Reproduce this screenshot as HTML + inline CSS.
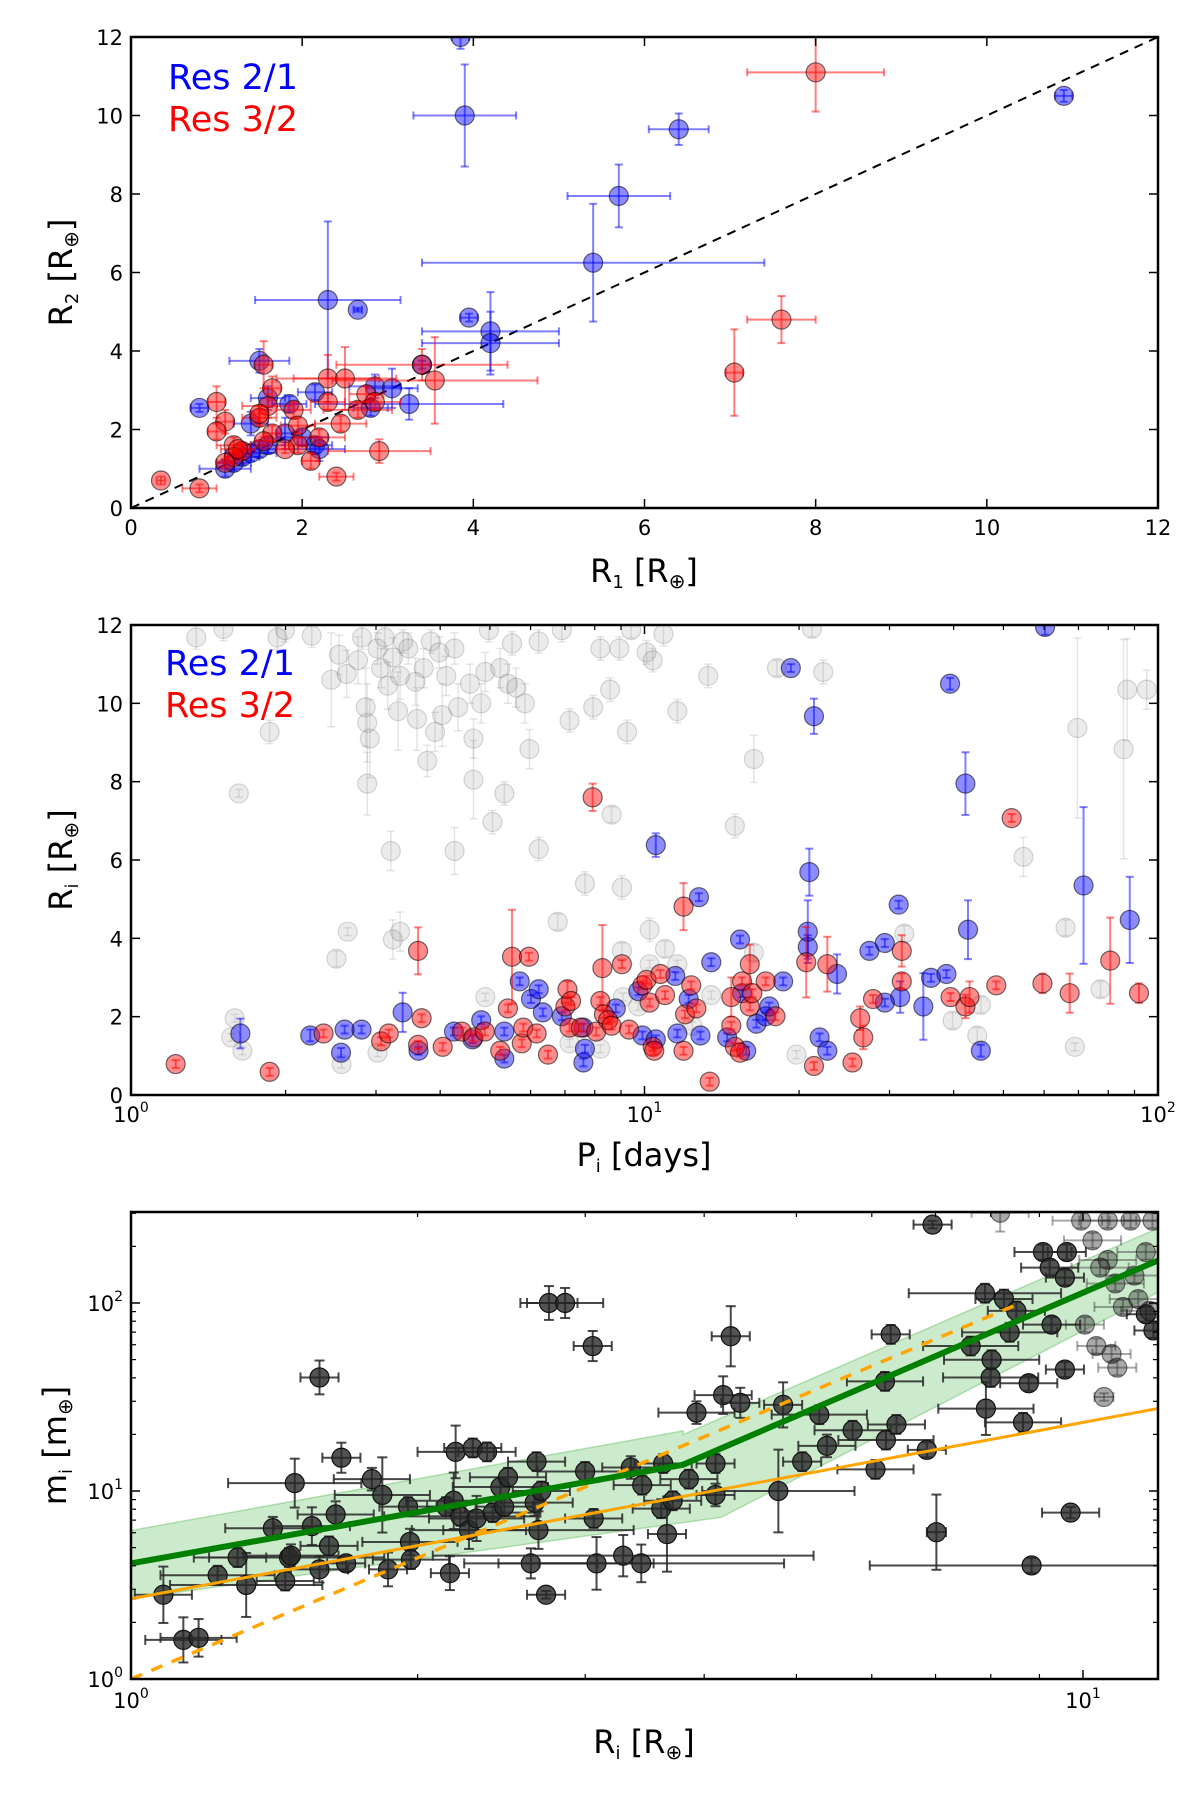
<!DOCTYPE html>
<html><head><meta charset="utf-8"><style>
html,body{margin:0;padding:0;background:#fff;}
svg{display:block;font-family:"DejaVu Sans","Liberation Sans",sans-serif;}
</style></head><body>
<svg id="fig" width="1200" height="1796" viewBox="0 0 1200 1796" xmlns="http://www.w3.org/2000/svg">
<defs>
<clipPath id="c1"><rect x="131" y="37" width="1027" height="471"/></clipPath>
<clipPath id="c2"><rect x="131" y="625" width="1027" height="470"/></clipPath>
<clipPath id="c3"><rect x="131" y="1212" width="1027" height="467"/></clipPath>
</defs>
<g id="p1"></g>
<g id="p2"></g>
<g id="p3"></g>
</svg>
<script>
// ---------- Panel 1 data: [R1, R2, xerr, yerr] ----------
const p1Res21 = [[3.85,12,0.1,0.3],[3.9,10,0.6,1.3],[6.4,9.65,0.35,0.4],[10.9,10.5,0.1,0.15],[5.7,7.95,0.6,0.8],[5.4,6.25,2,1.5],[2.3,5.3,0.85,2],[2.65,5.05,0.05,0.05],[3.95,4.85,0.1,0.1],[4.2,4.5,0.8,1],[4.2,4.2,0.8,0.8],[1.5,3.75,0.35,0.3],[3.4,3.65,0.1,0.1],[2.15,2.95,0.2,0.2],[2.85,3.1,0.3,0.3],[3.05,3.05,0.3,0.5],[3.25,2.65,1.1,0.4],[0.8,2.55,0.1,0.1],[1.85,2.65,0.2,0.2],[1.4,2.15,0.2,0.3],[1.6,2.8,0.2,0.3],[1.8,1.9,0.1,0.4],[2.15,1.6,0.2,0.2],[2.2,1.5,0.3,0.3],[1.5,1.5,0.2,0.2],[1.3,1.3,0.2,0.2],[1.1,1.0,0.3,0.2],[1.4,1.4,0.3,0.2],[2.0,1.8,0.3,0.2],[1.6,1.6,0.2,0.2],[1.2,1.15,0.2,0.2],[2.8,2.55,0.2,0.2]];
const p1Res32 = [[8,11.1,0.8,1],[7.6,4.8,0.4,0.6],[7.05,3.45,0.1,1.1],[0.35,0.7,0.05,0.1],[0.8,0.5,0.2,0.1],[2.4,0.8,0.2,0.1],[2.9,1.45,0.6,0.3],[1.0,2.7,0.1,0.4],[1.55,3.65,0.1,0.6],[2.3,3.3,0.6,0.6],[2.5,3.3,0.6,0.8],[3.4,3.65,1.0,0.4],[3.55,3.25,1.2,1.1],[1.65,3.05,0.1,0.3],[1.6,2.6,0.3,0.3],[1.1,2.2,0.1,0.3],[1.0,1.95,0.1,0.2],[1.2,1.6,0.2,0.2],[1.5,2.3,0.2,0.2],[1.5,2.4,0.1,0.2],[1.9,2.5,0.2,0.2],[1.95,2.1,0.2,0.2],[2.3,2.7,0.2,0.2],[2.65,2.5,0.4,0.2],[2.75,2.9,0.2,0.2],[2.85,2.7,0.3,0.2],[2.45,2.15,0.3,0.2],[2.1,1.2,0.1,0.2],[1.95,1.6,0.1,0.2],[2.2,1.8,0.3,0.2],[1.3,1.45,0.1,0.2],[1.2,1.3,0.1,0.1],[1.65,1.9,0.1,0.2],[1.55,1.7,0.1,0.1],[1.1,1.15,0.1,0.1],[1.8,1.5,0.1,0.1],[1.25,1.5,0.2,0.1]];
const p1Ticks = [0,2,4,6,8,10,12];

// ---------- Panel 2 data: [log10 P, R, yerr] ----------
const p2Gray = [[.127,11.68,.3],[.18,11.9,.3],[.285,11.68,.3],[.3,11.87,.3],[.352,11.73,.3],[.39,10.6,1.2],[.405,11.24,.5],[.42,10.75,.6],[.442,11.1,.6],[.45,11.68,.3],[.457,9.9,1],[.46,9.5,1],[.465,9.1,1],[.46,7.95,.8],[.48,11.4,.4],[.487,10.9,.5],[.494,11.68,.3],[.5,10.45,.6],[.51,11.17,.5],[.52,9.8,1],[.524,10.7,.6],[.53,11.58,.3],[.54,11.4,.4],[.554,10.55,.6],[.557,9.6,.8],[.57,10.9,.5],[.577,8.53,.4],[.584,11.58,.3],[.592,9.27,.5],[.6,11.3,.4],[.606,9.7,.8],[.614,10.7,.5],[.63,11.4,.4],[.637,9.9,.6],[.66,10.5,.5],[.667,9.1,.5],[.667,8.05,1],[.682,10.0,.5],[.69,10.8,.5],[.697,11.87,.3],[.704,6.97,.3],[.719,10.9,.5],[.727,7.7,.3],[.734,10.5,.5],[.742,11.53,.3],[.75,10.4,.5],[.767,10.0,.5],[.776,8.83,.5],[.794,11.58,.3],[.839,11.87,.3],[.854,9.56,.3],[.9,9.9,.3],[.914,11.4,.3],[.933,10.35,.3],[.936,7.16,.2],[.951,11.4,.3],[.966,9.27,.3],[.974,11.87,.2],[1.004,11.3,.3],[1.016,11.1,.3],[1.037,11.77,.3],[1.064,9.8,.3],[1.124,10.7,.3],[1.176,6.87,.3],[1.213,8.58,.6],[1.258,10.9,.2],[1.326,11.9,.2],[1.348,10.8,.3],[1.843,9.37,2.3],[1.933,8.83,2.8],[1.94,10.35,1.3],[1.978,10.35,.5],[1.738,6.08,.5],[1.82,4.27,.2],[1.838,1.23,.1],[1.888,2.7,.2],[1.6,1.9,.2],[1.655,2.3,.2],[1.648,1.52,.2],[1.296,1.03,.1],[.21,7.7,.1],[.27,9.27,.3],[.506,6.23,.5],[.63,6.23,.6],[.794,6.28,.3],[.884,5.4,.3],[.956,5.3,.3],[.831,4.42,.2],[1.01,4.22,.3],[1.04,3.73,.2],[.956,3.68,.2],[1.506,4.12,.2],[.51,3.97,.5],[.524,4.17,.5],[.422,4.17,.1],[.4,3.48,.2],[.202,1.96,.1],[.195,1.47,.1],[.217,1.13,.1],[.41,.79,.1],[.48,1.08,.1],[.69,2.5,.1],[.854,1.32,.1],[.914,1.18,.1],[.958,2.5,.1],[.988,2.26,.1],[1.01,3.34,.1],[1.064,3.34,.1],[1.13,2.55,.1],[1.213,3.63,.2],[1.093,1.77,.1]];
const p2Res21 = [[.213,1.57,.38],[.349,1.52,.15],[.409,1.08,.12],[.416,1.67,.1],[.449,1.67,.1],[.529,2.11,.5],[.56,1.13,.1],[.629,1.62,.1],[.682,1.91,.1],[.665,1.42,.1],[.727,1.62,.1],[.757,2.9,.1],[.779,2.45,.1],[.794,2.7,.1],[.802,2.11,.1],[.727,.93,.1],[.839,2.01,.1],[.881,1.72,.1],[.881,.83,.1],[.884,1.18,.1],[.944,2.21,.1],[.988,2.65,.1],[.996,1.52,.1],[1.022,1.42,.1],[1.06,3.04,.1],[1.086,2.45,.1],[1.064,1.57,.1],[1.109,1.52,.1],[1.106,5.05,.1],[1.022,6.38,.3],[1.13,3.39,.1],[1.161,1.47,.1],[1.186,3.97,.1],[1.19,2.6,.1],[1.198,1.13,.1],[1.218,1.82,.1],[1.236,2.01,.1],[1.243,2.26,.1],[1.27,2.9,.1],[1.285,10.9,.1],[1.318,3.78,.3],[1.318,4.17,.8],[1.321,5.69,.6],[1.33,9.67,.45],[1.341,1.47,.1],[1.356,1.13,.1],[1.375,3.09,.5],[1.438,3.68,.1],[1.468,3.88,.1],[1.495,4.86,.1],[1.498,2.5,.4],[1.468,2.36,.1],[1.543,2.26,.85],[1.558,2.99,.1],[1.588,3.09,.1],[1.595,10.5,.15],[1.625,7.95,.8],[1.63,4.22,.75],[1.655,1.13,.15],[1.78,11.95,.2],[1.855,5.35,2],[1.945,4.47,1.1]];
const p2Res32 = [[.087,.79,.1],[.27,.59,.1],[.375,1.57,.1],[.487,1.37,.1],[.502,1.57,.1],[.559,3.68,.6],[.559,1.28,.1],[.566,1.96,.1],[.607,1.23,.1],[.644,1.62,.1],[.667,1.47,.1],[.689,1.62,.1],[.719,1.13,.1],[.734,2.21,.1],[.742,3.53,1.2],[.761,1.32,.1],[.764,1.72,.1],[.775,3.53,.1],[.79,1.57,.1],[.812,1.03,.1],[.846,2.26,.1],[.85,2.7,.2],[.854,1.72,.1],[.857,2.4,.1],[.876,1.72,.1],[.899,7.6,.35],[.906,1.62,.1],[.914,2.4,.1],[.918,3.24,1.1],[.921,2.06,.1],[.929,1.91,.1],[.936,1.77,.1],[.956,3.34,.1],[.97,1.67,.1],[.996,2.8,.1],[1.004,2.94,.1],[1.01,2.36,.1],[1.016,1.23,.1],[1.019,1.13,.1],[1.031,3.09,.1],[1.04,2.55,.1],[1.076,4.81,.6],[1.076,1.13,.1],[1.079,2.06,.1],[1.091,2.8,.1],[1.101,2.21,.1],[1.127,.34,.1],[1.169,2.5,.5],[1.169,1.77,.1],[1.176,1.23,.1],[1.186,1.08,.1],[1.19,2.9,.1],[1.205,3.34,.5],[1.205,2.26,.1],[1.21,2.6,.1],[1.236,2.9,.1],[1.255,2.01,.1],[1.315,3.39,.9],[1.33,.74,.1],[1.356,3.34,.7],[1.405,.83,.1],[1.42,1.96,.3],[1.426,1.47,.3],[1.445,2.45,.1],[1.501,3.68,.4],[1.501,2.9,.2],[1.596,2.5,.1],[1.625,2.26,.3],[1.633,2.5,.4],[1.685,2.8,.1],[1.715,7.07,.1],[1.775,2.85,.25],[1.828,2.6,.5],[1.907,3.43,1.1],[1.963,2.6,.25]];
const p2YTicks = [0,2,4,6,8,10,12];
const p2XDecades = [0,1,2];

// ---------- Panel 3 data: [log10 R, log10 m, xerr dex, yerr dex] ----------
const p3Planets = [[.034,.448,.03,.15],[.055,.208,.04,.12],[.071,.219,.04,.1],[.091,.552,.06,.05],[.121,.5,.08,.17],[.112,.646,.03,.05],[.162,.521,.03,.05],[.166,.646,.1,.05],[.168,.656,.05,.06],[.172,1.042,.07,.13],[.149,.802,.05,.06],[.19,.813,.04,.1],[.198,.583,.03,.07],[.208,.708,.03,.05],[.215,.875,.04,.07],[.221,1.177,.02,.08],[.226,.615,.02,.04],[.198,1.604,.02,.09],[.253,1.063,.04,.06],[.264,.979,.05,.2],[.27,.583,.02,.09],[.291,.917,.03,.05],[.293,.729,.05,.07],[.294,.635,.04,.05],[.331,.917,.02,.05],[.335,.563,.02,.09],[.341,1.208,.04,.14],[.339,.948,.05,.15],[.346,.865,.08,.05],[.355,.792,.06,.1],[.359,1.229,.03,.05],[.363,.854,.05,.12],[.374,1.208,.03,.05],[.38,.885,.05,.05],[.388,1.021,.05,.05],[.392,.917,.03,.05],[.396,1.073,.04,.05],[.42,.615,.07,.08],[.424,.938,.04,.07],[.426,1.156,.03,.05],[.428,.792,.1,.1],[.431,1.0,.03,.05],[.436,.448,.02,.02],[.439,2.0,.03,.09],[.456,2.0,.04,.08],[.477,1.104,.05,.05],[.485,1.771,.02,.08],[.486,.854,.03,.05],[.489,.615,.06,.14],[.517,.656,.2,.11],[.525,1.125,.03,.06],[.537,1.031,.03,.05],[.536,.615,.15,.1],[.557,.906,.03,.05],[.559,1.146,.03,.05],[.563,.771,.02,.2],[.569,.948,.03,.05],[.586,1.063,.03,.05],[.594,1.417,.04,.06],[.614,1.146,.02,.05],[.614,.979,.02,.06],[.622,1.51,.03,.1],[.63,1.823,.02,.16],[.64,1.469,.02,.08],[.68,1.0,.08,.22],[.685,1.458,.02,.12],[.705,1.156,.02,.05],[.723,1.406,.05,.05],[.731,1.24,.03,.06],[.758,1.323,.04,.05],[.782,1.115,.04,.05],[.792,1.583,.04,.05],[.793,1.271,.05,.05],[.798,1.833,.02,.05],[.804,1.354,.03,.05],[.836,1.219,.02,.04],[.842,2.417,.02,.02],[.846,.781,.01,.2],[.882,1.771,.05,.05],[.897,2.052,.08,.05],[.898,1.438,.05,.14],[.903,1.604,.05,.05],[.904,1.698,.05,.05],[.917,2.021,.03,.05],[.923,1.844,.05,.05],[.93,1.958,.03,.05],[.937,1.365,.04,.05],[.943,1.573,.03,.04],[.946,.604,.17,.04],[.958,2.271,.03,.04],[.965,2.188,.03,.04],[.967,1.885,.03,.04],[.981,2.135,.02,.04],[.983,2.271,.02,.04],[.981,1.646,.02,.04],[.987,.885,.03,.03],[1.074,1.854,.02,.04],[1.066,1.94,.02,.04]];
const p3Faint = [[.913,2.48,.03,.1],[1.002,1.885,.02,.04],[1.014,1.771,.02,.04],[1.022,1.5,.01,.02],[1.03,1.729,.02,.04],[1.036,1.656,.02,.04],[1.026,2.229,.03,.04],[1.034,2.104,.03,.04],[1.042,1.979,.03,.04],[1.054,2.146,.03,.04],[1.058,2.021,.03,.04],[1.066,2.271,.03,.04],[1.07,1.958,.03,.04],[1.073,2.438,.03,.04],[1.05,2.438,.03,.04],[1.026,2.438,.03,.04],[1.01,2.333,.03,.04],[1.018,2.188,.03,.04],[.998,2.438,.03,.04]];
const p3GreenLogR = [0, .58, 1.08];
const p3GreenLogM = [.615, 1.14, 2.229];
const p3BandUpperLogR = [0, .58, .58, 1.08];
const p3BandUpper = [.79, 1.32, 1.3, 2.40];
const p3BandLowerLogR = [1.08, .62, 0];
const p3BandLower = [2.06, .86, .427];
const p3OrangeLogR = [0, 1.08];
const p3OrangeLogM = [.427, 1.44];
const p3DashLogR = [0, .93];
const p3DashLogM = [0, 1.99];
const p3XDecades = [0,1];
const p3YDecades = [0,1,2];

// ---------- helpers ----------
const NS = "http://www.w3.org/2000/svg";
function mk(parent, tag, attrs, name){
  const e = document.createElementNS(NS, tag);
  for (const k in attrs) e.setAttribute(k, attrs[k]);
  
  
  parent.appendChild(e);
  return e;
}
const L=131, R=1158;
function frame(g, top, bot){
  mk(g,'rect',{x:L,y:top,width:R-L,height:bot-top,fill:'none',stroke:'#000','stroke-width':2.5},'plot-frame');
}
function errbar(g, cx, cy, x0, x1, y0, y1, color, w, cap){
  if (x1-x0>1){
    mk(g,'line',{x1:x0,y1:cy,x2:x1,y2:cy,stroke:color,'stroke-width':w},'x-error-bar');
    mk(g,'line',{x1:x0,y1:cy-cap,x2:x0,y2:cy+cap,stroke:color,'stroke-width':w},'error-cap');
    mk(g,'line',{x1:x1,y1:cy-cap,x2:x1,y2:cy+cap,stroke:color,'stroke-width':w},'error-cap');
  }
  if (y1-y0>1){
    mk(g,'line',{x1:cx,y1:y0,x2:cx,y2:y1,stroke:color,'stroke-width':w},'y-error-bar');
    mk(g,'line',{x1:cx-cap,y1:y0,x2:cx+cap,y2:y0,stroke:color,'stroke-width':w},'error-cap');
    mk(g,'line',{x1:cx-cap,y1:y1,x2:cx+cap,y2:y1,stroke:color,'stroke-width':w},'error-cap');
  }
}
function text(g, x, y, str, size, anchor, name, fill){
  const t = mk(g,'text',{x:x,y:y,'font-size':size,'text-anchor':anchor||'middle',fill:fill||'#000'},name);
  t.textContent = str; return t;
}
function pow10Label(g, x, y, exp, name){
  const t = mk(g,'text',{x:x,y:y,'font-size':21,'text-anchor':'middle'},name);
  const a = document.createElementNS(NS,'tspan'); a.textContent='10'; t.appendChild(a);
  const b = document.createElementNS(NS,'tspan'); b.setAttribute('dy','-10'); b.setAttribute('font-size','14'); b.textContent=String(exp); t.appendChild(b);
}
function yLabel(g, cx, cy, main, sub, unit, name){
  const t = mk(g,'text',{x:0,y:0,'font-size':32,'text-anchor':'middle',transform:`translate(${cx},${cy}) rotate(-90)`},name);
  const a=document.createElementNS(NS,'tspan'); a.textContent=main; t.appendChild(a);
  const b=document.createElementNS(NS,'tspan'); b.setAttribute('font-size','18'); b.setAttribute('dy','6'); b.textContent=sub; t.appendChild(b);
  const c=document.createElementNS(NS,'tspan'); c.setAttribute('dy','-6'); c.textContent='  ['+unit; t.appendChild(c);
  const d=document.createElementNS(NS,'tspan'); d.setAttribute('font-size','20'); d.setAttribute('dy','6'); d.textContent='⊕'; t.appendChild(d);
  const e=document.createElementNS(NS,'tspan'); e.setAttribute('dy','-6'); e.textContent=']'; t.appendChild(e);
}
function xLabel(g, cx, y, main, sub, rest, unitSub, name){
  const t = mk(g,'text',{x:cx,y:y,'font-size':32,'text-anchor':'middle'},name);
  const a=document.createElementNS(NS,'tspan'); a.textContent=main; t.appendChild(a);
  const b=document.createElementNS(NS,'tspan'); b.setAttribute('font-size','18'); b.setAttribute('dy','6'); b.textContent=sub; t.appendChild(b);
  const c=document.createElementNS(NS,'tspan'); c.setAttribute('dy','-6'); c.textContent='  '+rest; t.appendChild(c);
  if (unitSub){
    const d=document.createElementNS(NS,'tspan'); d.setAttribute('font-size','20'); d.setAttribute('dy','6'); d.textContent='⊕'; t.appendChild(d);
    const e=document.createElementNS(NS,'tspan'); e.setAttribute('dy','-6'); e.textContent=']'; t.appendChild(e);
  }
}
const BLUE={fill:'rgba(0,0,255,0.45)',stroke:'rgba(0,0,0,0.55)',err:'rgba(0,0,255,0.5)'};
const RED={fill:'rgba(255,0,0,0.45)',stroke:'rgba(0,0,0,0.55)',err:'rgba(255,0,0,0.5)'};

// ---------- Panel 1 ----------
(function(){
  const g=document.getElementById('p1'), T=37, B=508;
  const xs=v=>L+v/12*(R-L), ys=v=>B-v/12*(B-T);
  const pg=mk(g,'g',{'clip-path':'url(#c1)'},'plot-area');
  mk(pg,'line',{x1:xs(0),y1:ys(0),x2:xs(12),y2:ys(12),stroke:'#000','stroke-width':2,'stroke-dasharray':'9,7'},'one-to-one-line');
  [[p1Res21,BLUE,'res21-point'],[p1Res32,RED,'res32-point']].forEach(([arr,c,nm])=>{
    arr.forEach(p=>{
      errbar(pg,xs(p[0]),ys(p[1]),xs(p[0]-p[2]),xs(p[0]+p[2]),ys(p[1]+p[3]),ys(p[1]-p[3]),c.err,2,4);
      mk(pg,'circle',{cx:xs(p[0]),cy:ys(p[1]),r:9.5,fill:c.fill,stroke:c.stroke,'stroke-width':1.2},nm);
    });
  });
  frame(g,T,B);
  p1Ticks.forEach(v=>{
    mk(g,'line',{x1:xs(v),y1:B,x2:xs(v),y2:B-9,stroke:'#000','stroke-width':1.5},'x-tick');
    mk(g,'line',{x1:xs(v),y1:T,x2:xs(v),y2:T+9,stroke:'#000','stroke-width':1.5},'x-tick');
    mk(g,'line',{x1:L,y1:ys(v),x2:L+9,y2:ys(v),stroke:'#000','stroke-width':1.5},'y-tick');
    mk(g,'line',{x1:R,y1:ys(v),x2:R-9,y2:ys(v),stroke:'#000','stroke-width':1.5},'y-tick');
    text(g,xs(v),535,String(v),21,'middle','x-tick-label');
    text(g,123,ys(v)+8,String(v),21,'end','y-tick-label');
  });
  text(g,168,89,'Res 2/1',35,'start','legend-res21','#0000ff');
  text(g,168,131,'Res 3/2',35,'start','legend-res32','#ff0000');
  xLabel(g,644,582,'R','1','[R',true,'x-axis-title');
  yLabel(g,72,(T+B)/2,'R','2','R','y-axis-title');
})();

// ---------- Panel 2 ----------
(function(){
  const g=document.getElementById('p2'), T=625, B=1095;
  const xs=lp=>L+lp/2*(R-L), ys=v=>B-v/12*(B-T);
  const pg=mk(g,'g',{'clip-path':'url(#c2)'},'plot-area');
  p2Gray.forEach(p=>{
    errbar(pg,xs(p[0]),ys(p[1]),0,0,ys(p[1]+p[2]),ys(p[1]-p[2]),'rgba(150,150,150,0.25)',1.5,4);
    mk(pg,'circle',{cx:xs(p[0]),cy:ys(p[1]),r:9.5,fill:'rgba(128,128,128,0.16)',stroke:'rgba(80,80,80,0.22)','stroke-width':1.2},'other-planet-point');
  });
  [[p2Res21,BLUE,'res21-point'],[p2Res32,RED,'res32-point']].forEach(([arr,c,nm])=>{
    arr.forEach(p=>{
      errbar(pg,xs(p[0]),ys(p[1]),0,0,ys(p[1]+p[2]),ys(p[1]-p[2]),c.err,2,4);
      mk(pg,'circle',{cx:xs(p[0]),cy:ys(p[1]),r:9.5,fill:c.fill,stroke:c.stroke,'stroke-width':1.2},nm);
    });
  });
  frame(g,T,B);
  p2XDecades.forEach(d=>{
    [B,T].forEach(yy=>mk(g,'line',{x1:xs(d),y1:yy,x2:xs(d),y2:yy+(yy===B?-9:9),stroke:'#000','stroke-width':1.5},'x-major-tick'));
    pow10Label(g,xs(d),1122,d,'x-tick-label');
    if (d<2) for(let k=2;k<10;k++){
      const x=xs(d+Math.log10(k));
      mk(g,'line',{x1:x,y1:B,x2:x,y2:B-5,stroke:'#000','stroke-width':1.2},'x-minor-tick');
      mk(g,'line',{x1:x,y1:T,x2:x,y2:T+5,stroke:'#000','stroke-width':1.2},'x-minor-tick');
    }
  });
  p2YTicks.forEach(v=>{
    mk(g,'line',{x1:L,y1:ys(v),x2:L+9,y2:ys(v),stroke:'#000','stroke-width':1.5},'y-tick');
    mk(g,'line',{x1:R,y1:ys(v),x2:R-9,y2:ys(v),stroke:'#000','stroke-width':1.5},'y-tick');
    text(g,123,ys(v)+8,String(v),21,'end','y-tick-label');
  });
  text(g,165,675,'Res 2/1',35,'start','legend-res21','#0000ff');
  text(g,165,717,'Res 3/2',35,'start','legend-res32','#ff0000');
  xLabel(g,644,1166,'P','i','[days]',false,'x-axis-title');
  yLabel(g,72,(T+B)/2,'R','i','R','y-axis-title');
})();

// ---------- Panel 3 ----------
(function(){
  const g=document.getElementById('p3'), T=1212, B=1679;
  const dec=952, ydec=188;
  const xs=lr=>L+lr*dec, ys=lm=>B-lm*ydec;
  const pg=mk(g,'g',{'clip-path':'url(#c3)'},'plot-area');
  let d='';
  p3BandUpperLogR.forEach((r,i)=>{d+=(i?'L':'M')+xs(r)+','+ys(p3BandUpper[i]);});
  p3BandLowerLogR.forEach((r,i)=>{d+='L'+xs(r)+','+ys(p3BandLower[i]);});
  mk(pg,'path',{d:d+'Z',fill:'rgba(0,150,0,0.2)',stroke:'rgba(0,150,0,0.25)','stroke-width':1.5},'mass-radius-band');
  const pts=arr=>arr.map(p=>p.join(',')).join(' ');
  p3Planets.forEach(p=>{
    errbar(pg,xs(p[0]),ys(p[1]),xs(p[0]-p[2]),xs(p[0]+p[2]),ys(p[1]+p[3]),ys(p[1]-p[3]),'rgba(40,40,40,0.85)',2,5);
    mk(pg,'circle',{cx:xs(p[0]),cy:ys(p[1]),r:9.5,fill:'rgba(40,40,40,0.8)',stroke:'#111','stroke-width':1.2},'planet-point');
  });
  p3Faint.forEach(p=>{
    errbar(pg,xs(p[0]),ys(p[1]),xs(p[0]-p[2]),xs(p[0]+p[2]),ys(p[1]+p[3]),ys(p[1]-p[3]),'rgba(40,40,40,0.4)',2,5);
    mk(pg,'circle',{cx:xs(p[0]),cy:ys(p[1]),r:9.5,fill:'rgba(40,40,40,0.4)',stroke:'rgba(0,0,0,0.5)','stroke-width':1.2},'faint-planet-point');
  });
  mk(pg,'polyline',{points:pts(p3DashLogR.map((r,i)=>[xs(r),ys(p3DashLogM[i])])),fill:'none',stroke:'#ffa500','stroke-width':3.5,'stroke-dasharray':'12,10'},'orange-dashed-relation');
  mk(pg,'polyline',{points:pts(p3OrangeLogR.map((r,i)=>[xs(r),ys(p3OrangeLogM[i])])),fill:'none',stroke:'#ffa500','stroke-width':3},'orange-solid-relation');
  mk(pg,'polyline',{points:pts(p3GreenLogR.map((r,i)=>[xs(r),ys(p3GreenLogM[i])])),fill:'none',stroke:'#008000','stroke-width':6},'green-fit-line');
  frame(g,T,B);
  p3XDecades.forEach(dd=>{
    const x=xs(dd);
    mk(g,'line',{x1:x,y1:B,x2:x,y2:B-9,stroke:'#000','stroke-width':1.5},'x-major-tick');
    mk(g,'line',{x1:x,y1:T,x2:x,y2:T+9,stroke:'#000','stroke-width':1.5},'x-major-tick');
    pow10Label(g,x,1708,dd,'x-tick-label');
    for(let k=2;k<10;k++){
      const xx=xs(dd+Math.log10(k));
      if (xx>R) continue;
      mk(g,'line',{x1:xx,y1:B,x2:xx,y2:B-5,stroke:'#000','stroke-width':1.2},'x-minor-tick');
      mk(g,'line',{x1:xx,y1:T,x2:xx,y2:T+5,stroke:'#000','stroke-width':1.2},'x-minor-tick');
    }
  });
  p3YDecades.forEach(dd=>{
    const y=ys(dd);
    mk(g,'line',{x1:L,y1:y,x2:L+9,y2:y,stroke:'#000','stroke-width':1.5},'y-major-tick');
    mk(g,'line',{x1:R,y1:y,x2:R-9,y2:y,stroke:'#000','stroke-width':1.5},'y-major-tick');
    const t=mk(g,'text',{x:123,y:y+8,'font-size':21,'text-anchor':'end'},'y-tick-label');
    const a=document.createElementNS(NS,'tspan'); a.textContent='10'; t.appendChild(a);
    const b=document.createElementNS(NS,'tspan'); b.setAttribute('dy','-10'); b.setAttribute('font-size','14'); b.textContent=String(dd); t.appendChild(b);
    for(let k=2;k<10;k++){
      const yy=ys(dd+Math.log10(k));
      if (yy<T) continue;
      mk(g,'line',{x1:L,y1:yy,x2:L+5,y2:yy,stroke:'#000','stroke-width':1.2},'y-minor-tick');
      mk(g,'line',{x1:R,y1:yy,x2:R-5,y2:yy,stroke:'#000','stroke-width':1.2},'y-minor-tick');
    }
  });
  xLabel(g,644,1753,'R','i','[R',true,'x-axis-title');
  yLabel(g,66,(T+B)/2,'m','i','m','y-axis-title');
})();
</script>
</body></html>
